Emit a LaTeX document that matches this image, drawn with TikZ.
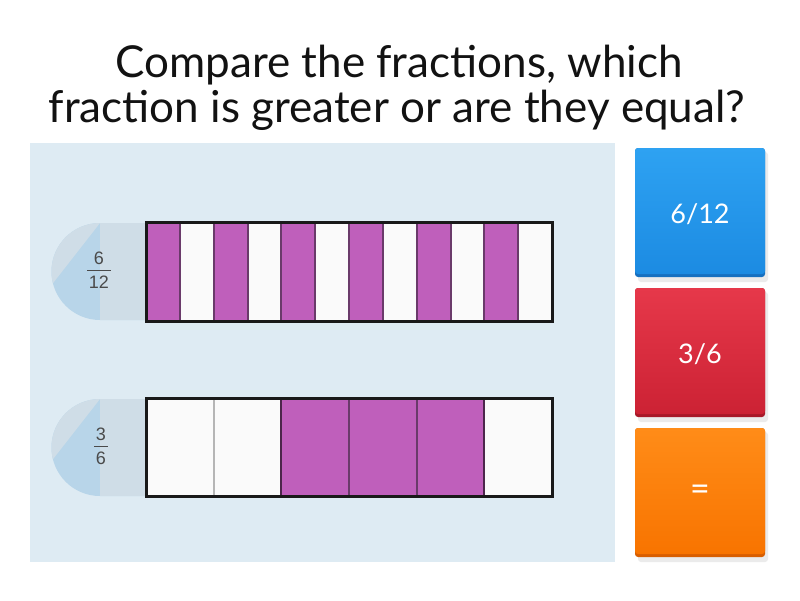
\documentclass[tikz,border=0pt]{standalone}
\usepackage{fontspec}
\setmainfont{Lato}
\newfontfamily\labelfont{Liberation Sans}
\definecolor{panelbg}{HTML}{DEEBF3}
\definecolor{pillc}{HTML}{CFDDE7}
\definecolor{pilldark}{HTML}{B8D5E9}
\definecolor{purp}{HTML}{BF5FBB}
\definecolor{cellw}{HTML}{FAFAFA}
\definecolor{divp}{HTML}{6A3A6A}
\definecolor{divg}{HTML}{B5B5B5}
\definecolor{fracgray}{HTML}{4A4A4A}
\definecolor{blueT}{HTML}{2EA2F2}
\definecolor{blueB}{HTML}{1C8BE2}
\definecolor{blueD}{HTML}{1670C0}
\definecolor{redT}{HTML}{E6384A}
\definecolor{redB}{HTML}{CC2234}
\definecolor{redD}{HTML}{A81828}
\definecolor{orT}{HTML}{FF8C18}
\definecolor{orB}{HTML}{F87400}
\definecolor{orD}{HTML}{D85E00}
\tikzset{
  titletext/.style={font=\fontsize{44}{50}\selectfont, text=black!93, anchor=base, inner sep=0pt},
  fracnum/.style={font=\labelfont\fontsize{18}{18}\selectfont, text=fracgray, inner sep=0pt},
  btntext/.style={font=\fontsize{27}{27}\selectfont, text=white, inner sep=0pt},
  barframe/.style={draw=black!90, line width=3pt},
}
\begin{document}
\begin{tikzpicture}[x=1pt,y=-1pt]
\useasboundingbox (0,0) rectangle (800,600);
\fill[white] (0,0) rectangle (800,600);
% title
\node[titletext] (t1) at (399,77) {Compare the fractions, which};
\node[titletext] (t2) at (397,122) {fraction is greater or are they equal?};
% panel
\fill[panelbg] (30,143) rectangle (615,562);
% pill 1
\fill[pilldark] (146,223) -- (100,223) arc[start angle=-90, end angle=-270, radius=48.5] -- (146,320) -- cycle;
\fill[pillc] (100,223) rectangle (146,320);
\fill[pillc] (100,223) arc[start angle=-90, end angle=-194, radius=48.5] -- cycle;
% pill 2
\fill[pilldark] (146,399) -- (100,399) arc[start angle=-90, end angle=-270, radius=48.5] -- (146,496) -- cycle;
\fill[pillc] (100,399) rectangle (146,496);
\fill[pillc] (100,399) arc[start angle=-90, end angle=-194, radius=48.5] -- cycle;
% fraction labels
\node[fracnum] (n1) at (99,258.5) {6};
\node[fracnum] (d1) at (99,282) {12};
\coordinate (l1a) at (87,270.5); \coordinate (l1b) at (111,270.5);
\draw[fracgray, line width=1.6pt] (l1a) -- (l1b);
\node[fracnum] (n2) at (101,434.5) {3};
\node[fracnum] (d2) at (101,458) {6};
\coordinate (l2a) at (94,446.5); \coordinate (l2b) at (108,446.5);
\draw[fracgray, line width=1.6pt] (l2a) -- (l2b);
% bar 1 : 12 cells
\foreach \i in {0,...,11}{
  \pgfmathsetmacro{\xa}{146+\i*406/12}
  \pgfmathsetmacro{\xb}{146+(\i+1)*406/12}
  \ifodd\i
    \fill[cellw] (\xa,222) rectangle (\xb,321);
  \else
    \fill[purp] (\xa,222) rectangle (\xb,321);
  \fi
}
\foreach \i in {1,...,11}{
  \pgfmathsetmacro{\xa}{146+\i*406/12}
  \draw[divp, line width=2pt] (\xa,222) -- (\xa,321);
}
\draw[barframe] (146,222) rectangle (552,321);
% bar 2 : 6 cells
\fill[cellw] (146,398) rectangle (552,496);
\fill[purp] ({146+2*406/6},398) rectangle ({146+5*406/6},496);
\draw[divg, line width=2pt] ({146+406/6},398) -- ({146+406/6},496);
\draw[divp, line width=2pt] ({146+3*406/6},398) -- ({146+3*406/6},496);
\draw[divp, line width=2pt] ({146+4*406/6},398) -- ({146+4*406/6},496);
\draw[black!60!purp, line width=2pt] ({146+2*406/6},398) -- ({146+2*406/6},496);
\draw[black!60!purp, line width=2pt] ({146+5*406/6},398) -- ({146+5*406/6},496);
\draw[barframe] (146,398) rectangle (552,496);
% buttons
\foreach \yt/\ct/\cb/\cd in {148/blueT/blueB/blueD, 288/redT/redB/redD, 428/orT/orB/orD}{
  \fill[black!8, rounded corners=3pt] (638,\yt+4) rectangle (768,\yt+134);
  \fill[\cd, rounded corners=3pt] (635,\yt) rectangle (765,\yt+129);
  \shade[top color=\ct, bottom color=\cb, rounded corners=3pt] (635,\yt) rectangle (765,\yt+126);
}
\node[btntext] (b1) at (700,214) {6/12};
\node[btntext] (b2) at (700,354) {3/6};
\node[btntext, font=\fontsize{34}{34}\selectfont] (b3) at (700,493) {=};
\end{tikzpicture}
\end{document}
